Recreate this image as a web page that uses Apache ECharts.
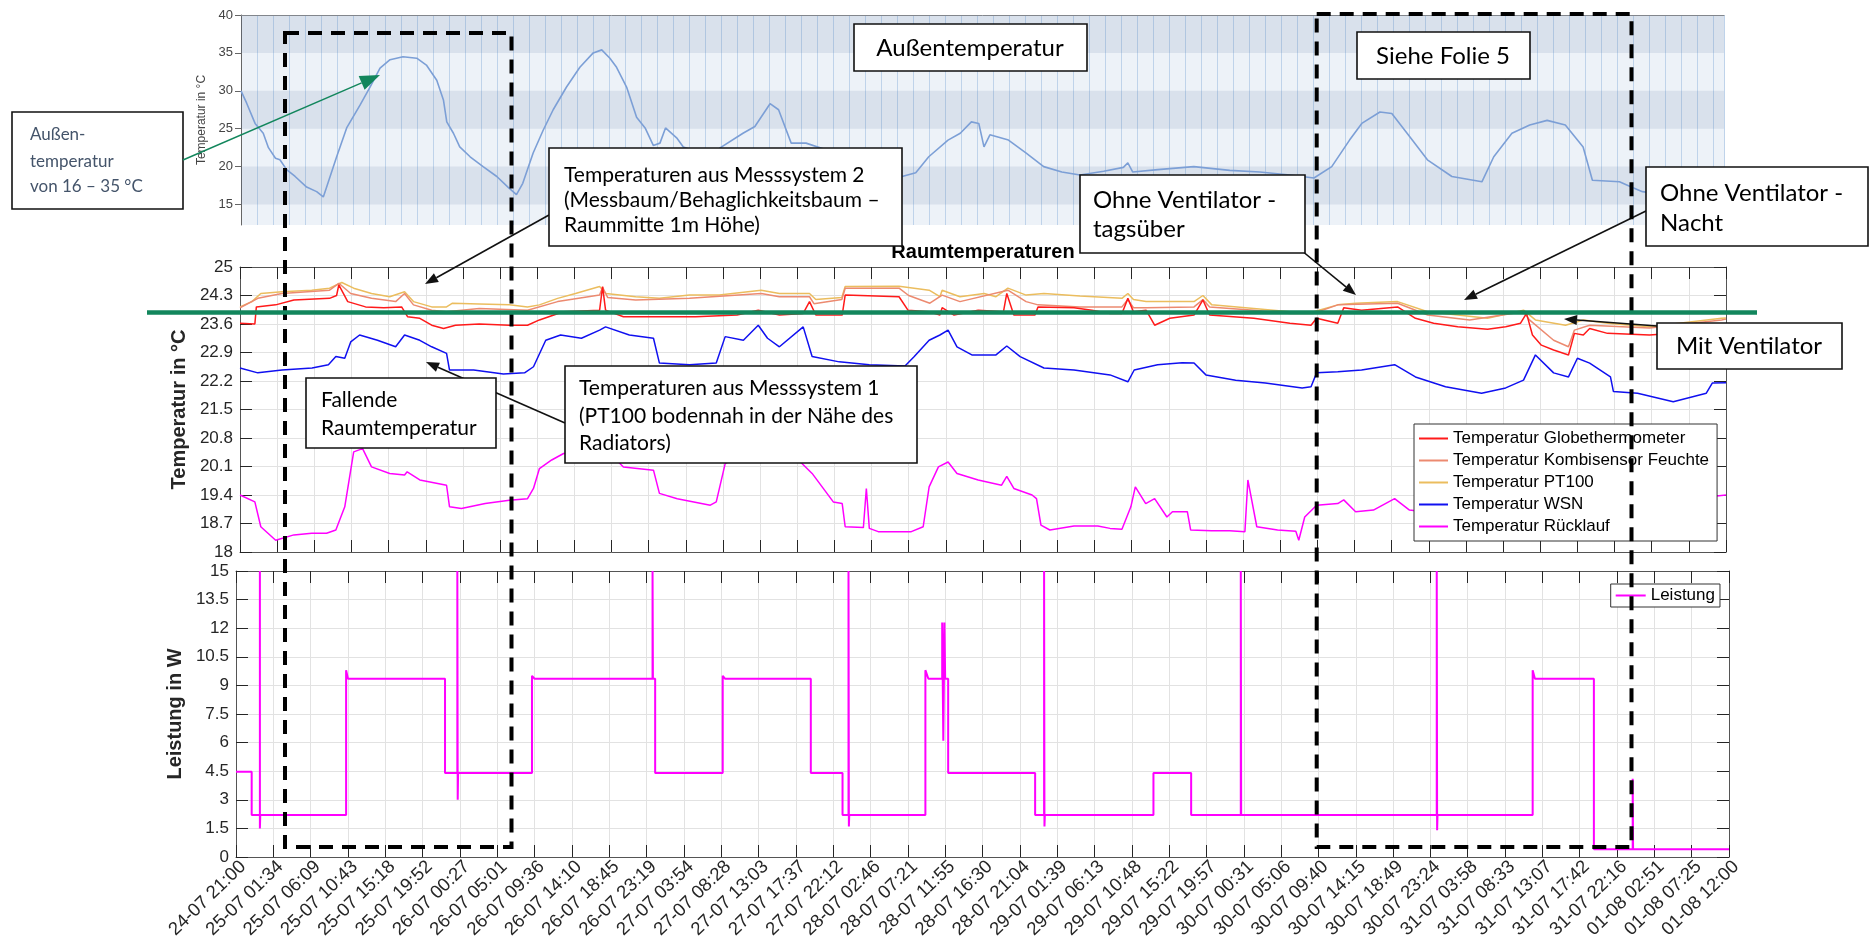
<!DOCTYPE html>
<html><head><meta charset="utf-8">
<script src="https://cdn.jsdelivr.net/npm/echarts@6/dist/echarts.min.js"></script>
<style>html,body{margin:0;padding:0;background:#fff}#c{width:1870px;height:952px}</style>
</head><body><div id="c"></div>
<script>
// ---- tick labels (x axis: index 0..40) ----
const xLabels = ['24-07 21:00','25-07 01:34','25-07 06:09','25-07 10:43','25-07 15:18','25-07 19:52','26-07 00:27','26-07 05:01','26-07 09:36','26-07 14:10','26-07 18:45','26-07 23:19','27-07 03:54','27-07 08:28','27-07 13:03','27-07 17:37','27-07 22:12','28-07 02:46','28-07 07:21','28-07 11:55','28-07 16:30','28-07 21:04','29-07 01:39','29-07 06:13','29-07 10:48','29-07 15:22','29-07 19:57','30-07 00:31','30-07 05:06','30-07 09:40','30-07 14:15','30-07 18:49','30-07 23:24','31-07 03:58','31-07 08:33','31-07 13:07','31-07 17:42','31-07 22:16','01-08 02:51','01-08 07:25','01-08 12:00'];
const outdoorTicks = [15,20,25,30,35,40];
const legendNames = ['Temperatur Globethermometer','Temperatur Kombisensor Feuchte','Temperatur PT100','Temperatur WSN','Temperatur Rücklauf'];

// ---- data: [x position in tick-label units, value] ----
const aussen = [[0,30],[0.15,28.4],[0.38,25.7],[0.6,24.4],[0.74,22.5],[0.93,21.1],[1.05,20.9],[1.23,19.6],[1.46,18.7],[1.77,17.3],[2.04,16.7],[2.22,16.0],[2.31,17.3],[2.58,21.3],[2.85,25.1],[3.21,28.1],[3.48,30.5],[3.75,33.0],[4.02,34.1],[4.37,34.5],[4.74,34.3],[5.0,33.4],[5.28,31.4],[5.46,28.8],[5.55,25.9],[5.73,24.4],[5.9,22.6],[6.18,21.3],[6.53,20.0],[6.9,18.7],[7.2,17.3],[7.43,16.3],[7.6,17.8],[7.88,21.8],[8.15,24.8],[8.42,27.5],[8.78,30.5],[9.14,33.1],[9.5,35.0],[9.73,35.4],[9.95,34.3],[10.13,33.1],[10.4,30.5],[10.67,26.5],[10.9,25.1],[11.12,22.8],[11.3,23.1],[11.45,25.1],[11.75,23.8],[11.93,22.6],[12.4,21.8],[12.9,22.4],[13.54,24.4],[13.86,25.3],[14.27,28.3],[14.5,27.5],[14.84,23.1],[15.24,23.1],[15.8,22.2],[16.6,21.0],[17.2,19.8],[17.83,18.7],[18.2,19.2],[18.55,21.3],[19.07,23.5],[19.4,24.4],[19.7,25.9],[19.9,25.7],[20.04,22.6],[20.2,24.2],[20.7,23.5],[21.17,21.8],[21.65,20.0],[22.14,19.3],[22.63,18.9],[23.27,19.4],[23.8,19.9],[23.92,20.5],[24.05,19.3],[24.73,19.6],[25.7,20.0],[26.67,19.5],[27.48,19.3],[28.29,18.9],[28.94,18.5],[29.42,20.0],[29.9,23.5],[30.23,25.7],[30.72,27.2],[31.04,27.0],[31.53,23.9],[32.0,20.9],[32.66,18.7],[33.47,18.0],[33.79,21.3],[34.28,24.4],[34.76,25.5],[35.23,26.1],[35.72,25.5],[36.2,22.6],[36.45,18.2],[37.18,18.0],[37.5,17.3],[37.8,16.7],[38.5,16.2],[39.2,16.0],[40,16.0]];

const globe = [[0,23.62],[0.4,23.6],[0.44,24.02],[0.96,24.07],[1.45,24.19],[2.41,24.23],[2.6,24.3],[2.66,24.56],[2.9,24.15],[3.38,24.02],[3.87,24.0],[4.35,24.02],[4.51,23.78],[4.84,23.74],[5.16,23.57],[5.48,23.49],[5.8,23.57],[6.44,23.6],[7.25,23.57],[7.74,23.57],[8.06,23.7],[8.7,23.9],[9.68,23.94],[9.76,24.52],[9.84,23.94],[10.32,23.78],[11.29,23.78],[12.26,23.78],[13.38,23.82],[13.95,23.94],[14.52,23.82],[15.16,23.86],[15.33,24.15],[15.5,23.82],[16.21,23.82],[16.29,24.31],[17.74,24.27],[17.98,23.94],[18.55,23.9],[18.84,23.82],[18.9,24.0],[19.22,23.82],[19.87,23.94],[20.55,23.9],[20.64,24.35],[20.83,23.82],[21.4,23.82],[21.48,24.02],[22.45,24.0],[22.93,23.94],[23.42,23.86],[23.74,23.86],[23.9,24.23],[24.05,23.9],[24.39,23.94],[24.62,23.57],[25.03,23.74],[25.68,23.82],[25.92,24.19],[26.1,23.82],[27.29,23.74],[28.26,23.62],[28.83,23.57],[28.98,23.74],[29.55,23.62],[29.71,24.0],[30.19,23.94],[31.16,24.02],[31.64,23.74],[32.13,23.62],[32.78,23.53],[33.58,23.47],[34.07,23.53],[34.47,23.62],[34.63,23.86],[34.79,23.33],[35.03,23.08],[35.36,22.96],[35.76,22.84],[35.92,23.37],[36.16,23.33],[36.33,23.49],[36.81,23.37],[37.94,23.33],[39.0,23.4],[40,23.5]];

const kombi = [[0,24.0],[0.48,24.23],[1.13,24.35],[2.41,24.43],[2.66,24.6],[2.98,24.35],[3.54,24.23],[4.19,24.15],[4.43,24.35],[4.67,24.07],[5.16,23.94],[5.56,23.9],[6.44,23.98],[7.74,23.94],[8.55,24.15],[9.68,24.31],[9.76,24.5],[9.9,24.25],[10.65,24.19],[12.1,24.23],[14.03,24.35],[14.52,24.27],[15.33,24.27],[15.45,24.1],[16.2,24.2],[16.29,24.48],[17.74,24.48],[18.0,24.3],[18.57,24.11],[18.9,24.31],[19.38,24.15],[20.67,24.43],[21.16,24.15],[21.48,24.07],[22.61,24.02],[23.74,24.02],[23.9,24.2],[24.05,24.0],[24.39,24.0],[25.68,24.02],[25.92,24.2],[26.1,24.02],[27.29,23.94],[28.26,23.86],[28.9,23.86],[29.55,24.07],[31.16,24.11],[31.97,23.82],[33.1,23.7],[34.55,23.9],[34.71,23.7],[35.36,23.2],[35.76,23.04],[35.92,23.45],[36.33,23.57],[37.94,23.5],[39.88,23.7],[40,23.72]];

const pt100 = [[0,24.02],[0.32,24.15],[0.56,24.35],[1.13,24.39],[1.93,24.43],[2.41,24.48],[2.74,24.62],[3.06,24.48],[3.54,24.35],[4.03,24.27],[4.43,24.39],[4.67,24.15],[5.16,24.02],[5.56,24.02],[5.72,24.11],[6.44,24.09],[7.25,24.07],[7.74,24.02],[8.06,24.07],[8.55,24.23],[9.03,24.35],[9.68,24.52],[9.85,24.35],[10.65,24.27],[11.29,24.23],[12.1,24.31],[12.9,24.31],[14.03,24.43],[14.52,24.35],[15.33,24.35],[15.5,24.2],[16.2,24.25],[16.29,24.52],[17.74,24.53],[18.55,24.43],[18.84,24.27],[18.9,24.43],[19.38,24.27],[20.03,24.35],[20.35,24.27],[20.67,24.48],[21.16,24.31],[21.64,24.35],[22.61,24.29],[23.74,24.23],[23.9,24.35],[24.05,24.2],[24.39,24.15],[25.68,24.15],[25.92,24.3],[26.16,24.07],[27.29,23.98],[28.26,23.9],[28.9,23.9],[29.55,24.07],[30.03,24.11],[31.16,24.15],[31.97,23.9],[32.78,23.82],[33.58,23.74],[34.55,23.94],[34.87,23.7],[35.68,23.57],[36.16,23.7],[36.81,23.62],[37.94,23.53],[39.88,23.74],[40,23.75]];

const wsn = [[0,22.52],[0.48,22.4],[1.13,22.47],[1.94,22.52],[2.38,22.6],[2.58,22.8],[2.82,22.76],[2.98,23.16],[3.22,23.33],[3.7,23.2],[4.19,23.04],[4.43,23.33],[4.84,23.2],[5.16,23.04],[5.56,22.88],[5.64,22.47],[6.29,22.47],[7.09,22.37],[7.66,22.4],[7.9,22.55],[8.23,23.2],[8.63,23.33],[9.19,23.25],[9.68,23.45],[9.84,23.53],[10.48,23.33],[11.13,23.25],[11.29,22.64],[12.1,22.6],[12.82,22.64],[13.06,23.29],[13.55,23.2],[13.95,23.57],[14.2,23.25],[14.52,23.04],[15.16,23.53],[15.4,22.8],[16.13,22.67],[16.94,22.6],[17.9,22.57],[18.15,22.8],[18.55,23.2],[18.84,23.33],[19.06,23.45],[19.3,23.04],[19.7,22.84],[20.35,22.84],[20.64,23.06],[21.0,22.8],[21.64,22.52],[22.45,22.47],[23.42,22.35],[23.9,22.18],[24.07,22.47],[24.7,22.6],[25.36,22.65],[25.68,22.64],[26.0,22.35],[26.8,22.22],[27.6,22.15],[28.59,22.03],[28.83,22.06],[28.98,22.4],[29.55,22.43],[30.19,22.47],[31.08,22.6],[31.64,22.3],[32.45,22.06],[33.42,21.9],[34.07,22.03],[34.55,22.22],[34.87,22.84],[35.36,22.4],[35.76,22.3],[36.0,22.76],[36.33,22.64],[36.89,22.3],[36.97,21.94],[37.62,21.9],[38.58,21.69],[39.47,21.9],[39.63,22.15],[40,22.16]];

const ruecklauf = [[0,19.4],[0.4,19.23],[0.56,18.62],[0.96,18.29],[1.45,18.42],[1.93,18.46],[2.33,18.46],[2.58,18.54],[2.82,19.11],[3.06,20.46],[3.3,20.54],[3.54,20.09],[4.03,19.93],[4.43,19.89],[4.5,19.97],[4.84,19.77],[5.56,19.64],[5.64,19.11],[5.96,19.07],[6.6,19.19],[7.25,19.27],[7.74,19.31],[7.9,19.56],[8.06,20.05],[8.39,20.26],[8.71,20.42],[9.3,20.45],[9.8,20.35],[10.2,20.2],[10.32,20.09],[11.13,20.01],[11.29,19.44],[11.77,19.31],[12.66,19.15],[12.82,19.23],[13.06,20.17],[13.5,20.4],[14.3,20.35],[14.8,20.3],[15.1,20.2],[15.4,19.93],[15.97,19.23],[16.21,19.19],[16.29,18.62],[16.78,18.6],[16.86,19.56],[16.94,18.58],[17.18,18.5],[18.07,18.5],[18.39,18.62],[18.55,19.6],[18.8,20.09],[19.06,20.21],[19.3,19.93],[19.87,19.77],[20.5,19.64],[20.64,19.86],[20.83,19.56],[21.32,19.4],[21.44,19.31],[21.56,18.66],[21.8,18.54],[22.45,18.64],[23.09,18.64],[23.42,18.58],[23.74,18.56],[23.98,19.11],[24.1,19.6],[24.38,19.19],[24.62,19.31],[24.95,18.86],[25.1,18.99],[25.5,18.99],[25.59,18.54],[26.15,18.52],[26.64,18.52],[27.05,18.5],[27.13,19.77],[27.37,18.62],[27.93,18.54],[28.42,18.51],[28.5,18.29],[28.66,18.86],[28.98,19.15],[29.55,19.19],[29.71,19.28],[30.03,18.99],[30.51,19.03],[31.08,19.31],[31.48,19.03],[32.2,18.95],[33.5,18.9],[34.5,18.95],[35.2,19.1],[36.5,19.2],[38,19.25],[39.5,19.35],[40,19.4]];

const leistung = [[0,4.47],[0.42,4.47],[0.42,2.2],[0.64,2.2],[0.64,15],[0.64,1.5],[0.65,2.2],[2.95,2.2],[2.95,9.8],[3.0,9.35],[5.6,9.35],[5.6,4.4],[5.93,4.4],[5.93,15],[5.94,3.0],[5.95,4.4],[7.93,4.4],[7.93,9.5],[8.0,9.35],[11.16,9.35],[11.16,15],[11.17,9.35],[11.23,9.35],[11.23,4.4],[13.04,4.4],[13.04,9.5],[13.1,9.35],[15.4,9.35],[15.4,4.4],[16.25,4.4],[16.25,2.2],[16.41,2.2],[16.41,15],[16.42,1.6],[16.43,2.2],[18.47,2.2],[18.47,9.8],[18.55,9.35],[18.92,9.35],[18.92,12.3],[18.95,6.1],[18.98,12.3],[19.0,9.35],[19.08,9.35],[19.08,4.4],[21.41,4.4],[21.41,2.2],[21.65,2.2],[21.65,15],[21.66,1.6],[21.67,2.2],[24.58,2.2],[24.58,4.4],[25.59,4.4],[25.59,2.2],[26.92,2.2],[26.92,15],[26.93,2.2],[32.17,2.2],[32.17,15],[32.18,1.4],[32.19,2.2],[34.74,2.2],[34.74,9.8],[34.8,9.35],[36.38,9.35],[36.38,0.4],[37.42,0.4],[37.42,4.1],[37.43,0.4],[40,0.4]];

// ---- styling helpers ----
const DARK = '#262626', GRIDC = '#e2e2e2', BOXC = '#555';
function fmt(v){ return Math.abs(v - Math.round(v)) < 1e-6 ? String(Math.round(v)) : v.toFixed(1); }
function matX(gi, pos){
  return {type:'value', gridIndex:gi, position:pos, min:0, max:40, interval:1,
    axisLine:{show:true, onZero:false, lineStyle:{color:BOXC, width:1}},
    axisTick:{show:true, inside:true, length:12, lineStyle:{color:DARK}},
    axisLabel:{show:false},
    splitLine:{show: pos==='bottom', lineStyle:{color:GRIDC, width:1}}};
}
function matY(gi, pos, min, max, iv, name){
  return {type:'value', gridIndex:gi, position:pos, min:min, max:max, interval:iv,
    axisLine:{show:true, onZero:false, lineStyle:{color:BOXC, width:1}},
    axisTick:{show:true, inside:true, length:12, lineStyle:{color:DARK}},
    axisLabel:{show: pos==='left', formatter:fmt, color:DARK, fontFamily:'Liberation Sans', fontSize:17, margin:7},
    splitLine:{show: pos==='left', lineStyle:{color:GRIDC, width:1}},
    name: name || '', nameLocation:'middle', nameGap:50,
    nameTextStyle:{fontFamily:'Liberation Sans', fontWeight:'bold', fontSize:20, color:DARK}};
}

// ---- annotation helpers (graphic) ----
const G = [];
const FONT = 'Lato';
function box(x,y,w,h,lw){ G.push({type:'rect', z:60, shape:{x:x,y:y,width:w,height:h}, style:{fill:'#fff', stroke:'#111', lineWidth:lw||1.6}}); }
function txt(x,y,s,size,color,align){ G.push({type:'text', z:61, x:x, y:y, style:{text:s, fontFamily:FONT, fontSize:size, fill:color||'#000', align:align||'left', textAlign:align||'left', verticalAlign:'middle', textVerticalAlign:'middle'}}); }
function arrow(x1,y1,x2,y2,color,w,hl,hw,z){
  const a = Math.atan2(y2-y1, x2-x1);
  const bx = x2 - hl*Math.cos(a), by = y2 - hl*Math.sin(a);
  const px = -Math.sin(a)*hw/2, py = Math.cos(a)*hw/2;
  G.push({type:'line', z:z||55, shape:{x1:x1,y1:y1,x2:bx,y2:by}, style:{stroke:color, lineWidth:w}});
  G.push({type:'polygon', z:z||55, shape:{points:[[x2,y2],[bx+px,by+py],[bx-px,by-py]]}, style:{fill:color}});
}
function dashRect(x1,y1,x2,y2){ G.push({type:'rect', z:70, shape:{x:x1,y:y1,width:x2-x1,height:y2-y1}, style:{fill:'none', stroke:'#000', lineWidth:4, lineDash:[14,9]}}); }

// arrows (drawn under boxes)
arrow(549,215,425,284,'#111',1.6,13,10);
arrow(565,423,426,362,'#111',1.6,13,10);
arrow(1296,246,1356,295,'#111',1.6,13,10);
arrow(1648,210,1464,300,'#111',1.6,13,10);
arrow(1657,326,1564,319,'#111',1.6,13,10);
arrow(183,160,380,75,'#12865c',1.5,20,15,62);

// boxes
box(12,112,171,97); txt(30,135,'Außen-',17,'#44546a'); txt(30,162,'temperatur',17,'#44546a'); txt(30,187,'von 16 – 35 °C',17,'#44546a');
box(854,24,233,47); txt(970,48,'Außentemperatur',24,'#000','center');
box(1357,32,173,47); txt(1443,56,'Siehe Folie 5',24,'#000','center');
box(549,148,353,98); txt(564,175,'Temperaturen aus Messsystem 2',21); txt(564,200,'(Messbaum/Behaglichkeitsbaum –',21); txt(564,225,'Raummitte 1m Höhe)',21);
box(565,366,352,97); txt(579,388,'Temperaturen aus Messsystem 1',21); txt(579,416,'(PT100 bodennah in der Nähe des',21); txt(579,443,'Radiators)',21);
box(306,378,190,70); txt(321,400,'Fallende',21); txt(321,428,'Raumtemperatur',21);
box(1080,175,225,78); txt(1093,200,'Ohne Ventilator -',24); txt(1093,229,'tagsüber',24);
box(1646,167,222,79); txt(1660,193,'Ohne Ventilator -',24); txt(1660,223,'Nacht',24);
box(1657,323,185,46); txt(1749,346,'Mit Ventilator',24,'#000','center');

// dashed frames
dashRect(285,33,511.5,847);
dashRect(1316.7,14,1631.5,847);
// green reference line
G.push({type:'line', z:80, shape:{x1:147,y1:312.5,x2:1757,y2:312.5}, style:{stroke:'#12865c', lineWidth:4.5}});
// middle panel title
G.push({type:'text', z:50, x:983, y:252, style:{text:'Raumtemperaturen', fontFamily:'Liberation Sans', fontWeight:'bold', fontSize:20, fill:'#000', align:'center', textAlign:'center', verticalAlign:'middle', textVerticalAlign:'middle'}});

const chart = echarts.init(document.getElementById('c'), null, {renderer:'canvas'});
chart.setOption({
  animation:false,
  backgroundColor:'#fff',
  grid:[
    {left:241, top:15, width:1483, height:210, show:true, backgroundColor:'#edf2f8', borderWidth:0},
    {left:240, top:267, width:1486, height:285},
    {left:236, top:571, width:1493, height:286},
    {left:243, top:856, width:1493, height:1}
  ],
  xAxis:[
    {type:'value', gridIndex:0, min:0, max:40, interval:16/37.08, axisLine:{show:false}, axisTick:{show:false}, axisLabel:{show:false}, splitLine:{show:true, lineStyle:{color:'#bfd3ea', width:1}}},
    {type:'value', gridIndex:0, position:'top', min:0, max:40, axisLine:{show:true, lineStyle:{color:'#8a8a8a'}}, axisTick:{show:false}, axisLabel:{show:false}, splitLine:{show:false}},
    matX(1,'bottom'), matX(1,'top'),
    matX(2,'bottom'), matX(2,'top'),
    {type:'value', gridIndex:3, min:0, max:40, interval:1, axisLine:{show:false}, axisTick:{show:false}, splitLine:{show:false},
      axisLabel:{show:true, rotate:44, margin:7, fontFamily:'Liberation Sans', fontSize:18.5, color:DARK, formatter:function(v){ return xLabels[Math.round(v)] || ''; }}}
  ],
  yAxis:[
    {type:'value', gridIndex:0, min:12.3, max:40,
      axisLine:{show:true, lineStyle:{color:'#666'}},
      axisTick:{show:true, length:6, lineStyle:{color:'#666'}, customValues:outdoorTicks},
      axisLabel:{show:true, customValues:outdoorTicks, color:'#444', fontFamily:'Liberation Sans', fontSize:13, margin:8},
      splitLine:{show:false},
      name:'Temperatur in °C', nameLocation:'middle', nameGap:32, nameTextStyle:{color:'#444', fontFamily:'Liberation Sans', fontSize:12}},
    matY(1,'left',18,25,0.7,'Temperatur in °C'), matY(1,'right',18,25,0.7),
    matY(2,'left',0,15,1.5,'Leistung in W'), matY(2,'right',0,15,1.5),
    {type:'value', gridIndex:3, show:false}
  ],
  legend:[
    {data:legendNames, orient:'vertical', left:1414, top:424, icon:'rect', itemWidth:29, itemHeight:2, itemGap:5,
     padding:[6,8,6,5], borderColor:'#333', borderWidth:1, backgroundColor:'#fff',
     textStyle:{fontFamily:'Liberation Sans', fontSize:17, color:'#000'}, z:20},
    {data:['Leistung'], orient:'vertical', left:1610.7, top:584, icon:'rect', itemWidth:30, itemHeight:2,
     padding:[3,5,3,5], borderColor:'#333', borderWidth:1, backgroundColor:'#fff',
     textStyle:{fontFamily:'Liberation Sans', fontSize:17, color:'#000'}, z:20}
  ],
  series:[
    {name:'Außentemperatur', type:'line', xAxisIndex:0, yAxisIndex:0, data:aussen, showSymbol:false, clip:true,
      lineStyle:{color:'#7c9fd6', width:1.6}, itemStyle:{color:'#7c9fd6'},
      markArea:{silent:true, itemStyle:{color:'rgba(70,110,160,0.12)'},
        data:[[{yAxis:35},{yAxis:40}],[{yAxis:25},{yAxis:30}],[{yAxis:15},{yAxis:20}]]}},
    {name:legendNames[4], type:'line', xAxisIndex:2, yAxisIndex:1, data:ruecklauf, showSymbol:false, clip:true, lineStyle:{color:'#ff00ff', width:1.5}, itemStyle:{color:'#ff00ff'}},
    {name:legendNames[3], type:'line', xAxisIndex:2, yAxisIndex:1, data:wsn, showSymbol:false, clip:true, lineStyle:{color:'#1010f0', width:1.5}, itemStyle:{color:'#1010f0'}},
    {name:legendNames[2], type:'line', xAxisIndex:2, yAxisIndex:1, data:pt100, showSymbol:false, clip:true, lineStyle:{color:'#ebbd5e', width:1.5}, itemStyle:{color:'#ebbd5e'}},
    {name:legendNames[1], type:'line', xAxisIndex:2, yAxisIndex:1, data:kombi, showSymbol:false, clip:true, lineStyle:{color:'#ec8a70', width:1.5}, itemStyle:{color:'#ec8a70'}},
    {name:legendNames[0], type:'line', xAxisIndex:2, yAxisIndex:1, data:globe, showSymbol:false, clip:true, lineStyle:{color:'#ff1a1a', width:1.5}, itemStyle:{color:'#ff1a1a'}},
    {name:'Leistung', type:'line', xAxisIndex:4, yAxisIndex:3, data:leistung, showSymbol:false, clip:true, lineStyle:{color:'#ff00ff', width:2}, itemStyle:{color:'#ff00ff'}}
  ],
  graphic:{elements:G}
});
</script>
</body></html>
